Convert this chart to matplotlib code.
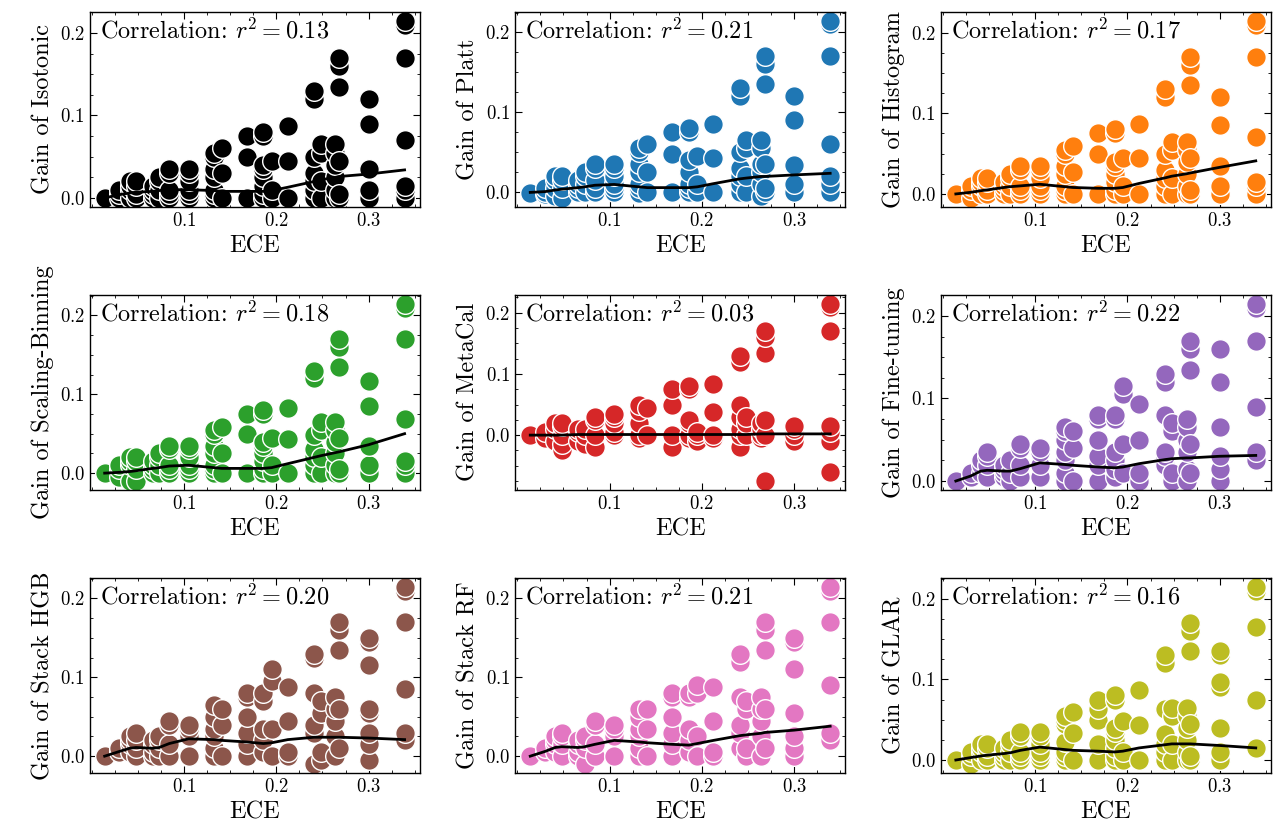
import matplotlib
matplotlib.use("Agg")
import matplotlib.pyplot as plt
from matplotlib.ticker import AutoMinorLocator
import numpy as np

plt.rcParams.update({
    "font.family": "serif",
    "font.serif": ["cmr10", "DejaVu Serif"],
    "mathtext.fontset": "cm",
    "axes.formatter.use_mathtext": True,
    "xtick.direction": "in", "ytick.direction": "in",
    "xtick.top": True, "ytick.right": True,
    "xtick.major.size": 5, "ytick.major.size": 5,
    "xtick.minor.size": 2.5, "ytick.minor.size": 2.5,
    "xtick.minor.visible": True, "ytick.minor.visible": True,
    "axes.linewidth": 1.0,
})

ece_levels = [0.014, 0.03, 0.041, 0.048, 0.066, 0.073, 0.084, 0.105, 0.132, 0.141,
              0.168, 0.186, 0.195, 0.2125, 0.241, 0.248, 0.264, 0.268, 0.3, 0.339]

gain_isotonic = [[0], [0, 0.005, 0.01], [0, 0.01, 0.015, 0.02], [0, 0.005, 0.015, 0.02],
                 [0, 0.005, 0.01, 0.015], [0, 0.01, 0.02, 0.025], [0, 0.005, 0.01, 0.03, 0.035],
                 [0, 0.005, 0.01, 0.02, 0.03, 0.035], [0, 0.005, 0.01, 0.025, 0.035, 0.05, 0.055],
                 [0, 0.03, 0.06], [0, 0.05, 0.075], [0, 0.005, 0.015, 0.025, 0.035, 0.04, 0.075, 0.08],
                 [0, 0.01, 0.045], [0, 0.045, 0.087], [0, 0.01, 0.02, 0.03, 0.05, 0.12, 0.13],
                 [0, 0.02, 0.055, 0.065], [0, 0.01, 0.025, 0.04, 0.055, 0.065],
                 [0, 0.005, 0.045, 0.135, 0.16, 0.17], [0, 0.01, 0.035, 0.09, 0.12],
                 [0, 0.01, 0.015, 0.07, 0.17, 0.21, 0.215]]
gain_platt = [[-0.002], [-0.003, 0.0, 0.005], [-0.005, 0.005, 0.015, 0.02], [-0.008, 0.005, 0.015, 0.02],
              [0, 0.005, 0.01, 0.015], [0, 0.01, 0.02, 0.025], [0, 0.005, 0.015, 0.03, 0.035],
              [0, 0.005, 0.01, 0.02, 0.03, 0.035], [-0.002, 0.005, 0.01, 0.025, 0.035, 0.05, 0.055],
              [0, 0.025, 0.06], [0, 0.047, 0.075], [0, 0.005, 0.01, 0.025, 0.04, 0.075, 0.08],
              [0, 0.01, 0.045], [0, 0.042, 0.085], [0, 0.01, 0.02, 0.03, 0.05, 0.12, 0.13],
              [0, 0.02, 0.055, 0.065], [-0.005, 0.01, 0.025, 0.035, 0.055, 0.065],
              [0, 0.005, 0.035, 0.135, 0.16, 0.17], [0, 0.01, 0.033, 0.09, 0.12],
              [0, 0.01, 0.02, 0.06, 0.17, 0.21, 0.215]]
gain_histogram = [[0], [-0.005, 0.005, 0.01], [0, 0.01, 0.015, 0.02], [0, 0.005, 0.015, 0.02],
                  [0, 0.005, 0.01, 0.015], [0, 0.01, 0.02, 0.025], [0, 0.005, 0.01, 0.03, 0.035],
                  [0, 0.005, 0.01, 0.02, 0.03, 0.035], [0, 0.005, 0.01, 0.025, 0.035, 0.05, 0.055],
                  [0, 0.027, 0.06], [0, 0.05, 0.075], [0, 0.005, 0.015, 0.025, 0.035, 0.04, 0.075, 0.08],
                  [0, 0.01, 0.045], [0, 0.045, 0.087], [0, 0.01, 0.02, 0.03, 0.05, 0.12, 0.13],
                  [0, 0.02, 0.055, 0.065], [0, 0.01, 0.025, 0.04, 0.055, 0.065],
                  [0, 0.005, 0.045, 0.135, 0.16, 0.17], [0, 0.01, 0.035, 0.085, 0.12],
                  [0, 0.01, 0.015, 0.07, 0.17, 0.21, 0.215]]
gain_scaling = [[0], [-0.005, 0.005, 0.01], [-0.01, 0.01, 0.015, 0.02], [-0.01, 0.005, 0.015, 0.02],
                [0, 0.005, 0.01, 0.015], [0, 0.01, 0.02, 0.025], [0, 0.005, 0.01, 0.03, 0.035],
                [0, 0.005, 0.01, 0.02, 0.03, 0.035], [0, 0.005, 0.01, 0.025, 0.035, 0.05, 0.055],
                [0, 0.025, 0.058], [0, 0.05, 0.075], [0, 0.005, 0.015, 0.025, 0.035, 0.04, 0.075, 0.08],
                [0, 0.01, 0.045], [0, 0.043, 0.082], [0, 0.01, 0.02, 0.03, 0.048, 0.12, 0.13],
                [0, 0.02, 0.055, 0.065], [0, 0.01, 0.025, 0.04, 0.055, 0.065],
                [0, 0.005, 0.045, 0.135, 0.16, 0.17], [0, 0.01, 0.035, 0.085, 0.117],
                [0, 0.01, 0.015, 0.068, 0.17, 0.21, 0.215]]
gain_metacal = [[0], [-0.005, 0.005], [-0.01, 0.01, 0.02], [-0.025, -0.015, 0, 0.015, 0.02],
                [-0.01, 0.005, 0.01], [-0.015, 0, 0.01], [-0.02, 0, 0.025, 0.03],
                [0, 0.005, 0.02, 0.03, 0.035], [-0.005, 0, 0.02, 0.04, 0.05], [0, 0.045],
                [-0.02, 0, 0.05, 0.075], [-0.005, 0, 0.02, 0.025, 0.075, 0.08], [-0.01, 0, 0.005],
                [-0.005, 0, 0.038, 0.083], [-0.02, 0, 0.01, 0.03, 0.05, 0.12, 0.13], [0, 0.02, 0.03],
                [-0.005, 0, 0.01, 0.02], [-0.075, 0, 0.025, 0.135, 0.16, 0.17], [-0.01, 0, 0.01, 0.015],
                [-0.06, -0.01, 0.005, 0.015, 0.17, 0.21, 0.215]]
gain_finetune = [[0], [0.005, 0.01], [0.01, 0.02, 0.025], [0.005, 0.02, 0.03, 0.035],
                 [0.005, 0.01, 0.015, 0.02], [0, 0.01, 0.025], [0.005, 0.02, 0.04, 0.045],
                 [0.005, 0.02, 0.035, 0.04], [0, 0.01, 0.025, 0.035, 0.05, 0.06, 0.065],
                 [0, 0.04, 0.06], [0, 0.02, 0.03, 0.05, 0.075, 0.08], [0.005, 0.015, 0.025, 0.035, 0.075, 0.08],
                 [0.01, 0.045, 0.105, 0.115], [0, 0.01, 0.05, 0.093], [0.02, 0.03, 0.035, 0.08, 0.12, 0.13],
                 [0, 0.01, 0.06, 0.07], [0, 0.015, 0.035, 0.05, 0.065, 0.075],
                 [0.01, 0.045, 0.135, 0.16, 0.17], [0, 0.015, 0.03, 0.065, 0.12, 0.16],
                 [0.025, 0.035, 0.09, 0.17, 0.21, 0.215]]
gain_hgb = [[0], [0.005, 0.01], [0.005, 0.015, 0.02, 0.025], [0, 0.01, 0.02, 0.03],
            [0, 0.005, 0.015, 0.02], [0, 0.01, 0.02, 0.025], [0, 0.015, 0.04, 0.045],
            [0, 0.025, 0.035, 0.04], [0, 0.01, 0.025, 0.035, 0.05, 0.065], [0, 0.04, 0.06],
            [0, 0.015, 0.03, 0.05, 0.075, 0.08], [0.005, 0.02, 0.035, 0.07, 0.08],
            [0, 0.035, 0.095, 0.11], [0, 0.005, 0.045, 0.088], [-0.01, 0.03, 0.04, 0.08, 0.125, 0.13],
            [-0.005, 0.005, 0.055, 0.07], [0, 0.025, 0.045, 0.06, 0.075],
            [0.01, 0.06, 0.135, 0.16, 0.17], [-0.005, 0.015, 0.03, 0.055, 0.06, 0.115, 0.145, 0.15],
            [0.02, 0.03, 0.085, 0.17, 0.21, 0.215]]
gain_rf = [[0], [0.005, 0.01], [0.005, 0.015, 0.02, 0.025], [0, 0.015, 0.025, 0.03],
           [0, 0.005, 0.015, 0.02], [-0.01, 0.01, 0.02, 0.025], [0, 0.015, 0.04, 0.045],
           [0, 0.025, 0.035, 0.04], [0, 0.01, 0.025, 0.035, 0.05, 0.06], [0, 0.035, 0.06],
           [0, 0.015, 0.03, 0.05, 0.075, 0.08], [0.005, 0.02, 0.035, 0.075, 0.08],
           [0, 0.025, 0.08, 0.09], [0, 0.005, 0.045, 0.088], [0.01, 0.03, 0.04, 0.075, 0.12, 0.13],
           [0, 0.01, 0.06, 0.07], [0, 0.025, 0.045, 0.06, 0.075],
           [0.01, 0.06, 0.135, 0.16, 0.17], [0, 0.01, 0.025, 0.055, 0.11, 0.145, 0.15],
           [0.02, 0.03, 0.09, 0.17, 0.21, 0.215]]
gain_glar = [[0], [-0.005, 0.005, 0.01], [0, 0.01, 0.015, 0.02], [0, 0.005, 0.015, 0.02],
             [0, 0.005, 0.01, 0.015], [0, 0.01, 0.02, 0.025], [0, 0.005, 0.01, 0.03, 0.035],
             [0, 0.005, 0.01, 0.02, 0.03, 0.035], [0, 0.005, 0.01, 0.022, 0.045, 0.05, 0.055],
             [0, 0.033, 0.06], [0, 0.02, 0.05, 0.063, 0.075], [0, 0.005, 0.015, 0.025, 0.035, 0.04, 0.075, 0.08],
             [0, 0.01, 0.048], [0, 0.043, 0.087], [0, 0.01, 0.02, 0.032, 0.063, 0.12, 0.13],
             [0, 0.02, 0.055, 0.065], [0, 0.01, 0.025, 0.04, 0.055, 0.065],
             [0, 0.005, 0.045, 0.135, 0.16, 0.17], [0, 0.01, 0.04, 0.09, 0.097, 0.13, 0.135],
             [0.015, 0.075, 0.165, 0.21, 0.215]]

trend_isotonic = [0, 0.004, 0.006, 0.007, 0.008, 0.009, 0.01, 0.01, 0.009, 0.008, 0.008, 0.008, 0.009, 0.013, 0.02, 0.022, 0.025, 0.026, 0.029, 0.034]
trend_platt = [-0.001, 0.0, 0.002, 0.003, 0.005, 0.006, 0.008, 0.009, 0.006, 0.005, 0.005, 0.005, 0.006, 0.01, 0.016, 0.017, 0.019, 0.019, 0.021, 0.023]
trend_histogram = [0, 0.002, 0.004, 0.005, 0.008, 0.009, 0.01, 0.012, 0.009, 0.008, 0.007, 0.007, 0.008, 0.013, 0.02, 0.022, 0.025, 0.026, 0.033, 0.041]
trend_scaling = [0, 0.001, 0.002, 0.003, 0.006, 0.007, 0.009, 0.01, 0.007, 0.006, 0.006, 0.006, 0.007, 0.012, 0.02, 0.022, 0.026, 0.027, 0.036, 0.05]
trend_metacal = [0, 0.0, 0.0, 0.0, 0.001, 0.001, 0.001, 0.001, 0.001, 0.001, 0.001, 0.001, 0.001, 0.001, 0.001, 0.001, 0.002, 0.002, 0.002, 0.002]
trend_finetune = [0, 0.006, 0.012, 0.013, 0.012, 0.012, 0.015, 0.022, 0.02, 0.019, 0.017, 0.016, 0.017, 0.021, 0.026, 0.027, 0.028, 0.028, 0.03, 0.031]
trend_hgb = [0, 0.006, 0.01, 0.011, 0.01, 0.011, 0.016, 0.022, 0.021, 0.02, 0.018, 0.016, 0.017, 0.021, 0.024, 0.024, 0.024, 0.024, 0.023, 0.021]
trend_rf = [0, 0.006, 0.011, 0.012, 0.011, 0.012, 0.015, 0.02, 0.018, 0.017, 0.015, 0.014, 0.016, 0.02, 0.026, 0.027, 0.029, 0.03, 0.033, 0.038]
trend_glar = [0, 0.003, 0.005, 0.006, 0.008, 0.009, 0.012, 0.016, 0.013, 0.012, 0.011, 0.01, 0.011, 0.015, 0.019, 0.02, 0.02, 0.02, 0.018, 0.015]

methods = ["Isotonic", "Platt", "Histogram", "Scaling-Binning", "MetaCal",
           "Fine-tuning", "Stack HGB", "Stack RF", "GLAR"]
r2_values = [0.13, 0.21, 0.17, 0.18, 0.03, 0.22, 0.20, 0.21, 0.16]
gains = [gain_isotonic, gain_platt, gain_histogram, gain_scaling, gain_metacal,
         gain_finetune, gain_hgb, gain_rf, gain_glar]
trends = [trend_isotonic, trend_platt, trend_histogram, trend_scaling, trend_metacal,
          trend_finetune, trend_hgb, trend_rf, trend_glar]
colors = ["black", "#1f77b4", "#ff7f0e", "#2ca02c", "#d62728",
          "#9467bd", "#8c564b", "#e377c2", "#bcbd22"]

fig, axes = plt.subplots(3, 3, figsize=(12.81, 8.32), dpi=100)
fig.subplots_adjust(left=0.07, right=0.992, top=0.986, bottom=0.071, wspace=0.29, hspace=0.45)

for ax, name, r2, g, tr, c in zip(axes.flat, methods, r2_values, gains, trends, colors):
    xs = [x for x, vals in zip(ece_levels, g) for _ in vals]
    ys = [v for vals in g for v in vals]
    ax.scatter(xs, ys, s=200, color=c, edgecolor="white", linewidth=1.0, zorder=2)
    ax.plot(ece_levels, tr, color="black", lw=2, zorder=3)
    ax.set_xticks([0.1, 0.2, 0.3])
    ax.set_yticks([0.0, 0.1, 0.2])
    ax.xaxis.set_minor_locator(AutoMinorLocator(4))
    ax.yaxis.set_minor_locator(AutoMinorLocator(4))
    ax.tick_params(labelsize=13.5)
    ax.set_xlabel("ECE", fontsize=17.5)
    ax.set_ylabel(f"Gain of {name}", fontsize=17.5)
    ax.text(0.03, 0.97, f"Correlation: $r^2 = {r2:.2f}$", transform=ax.transAxes,
            fontsize=17.5, va="top", ha="left", zorder=4)

fig.savefig("out.png", dpi=100)
